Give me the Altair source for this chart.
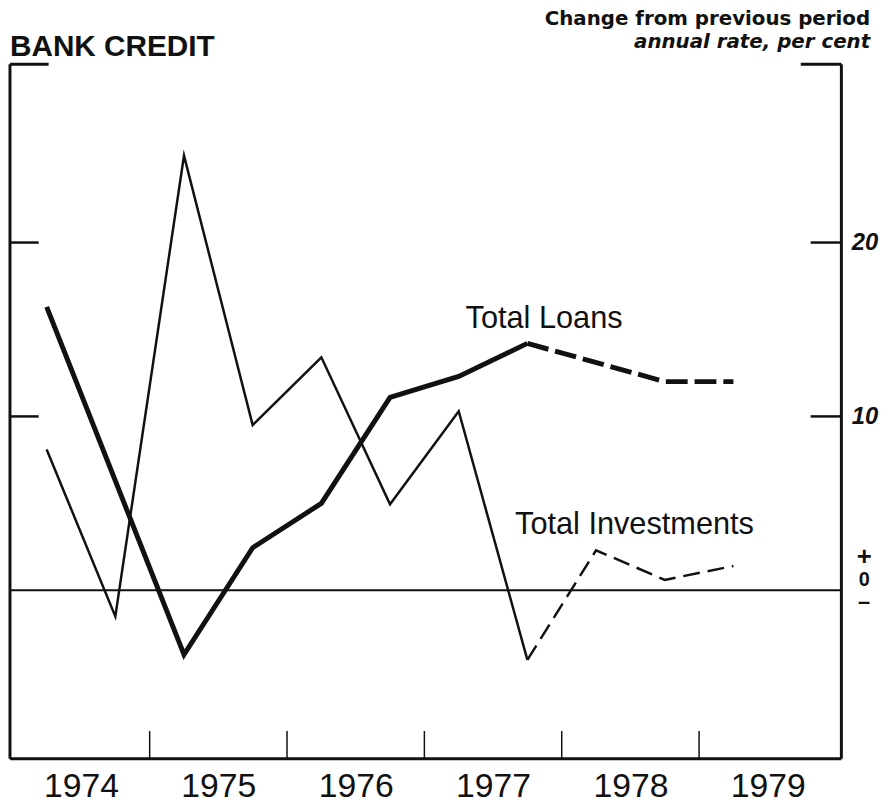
import altair as alt
import pandas as pd

# ---- data (half-year periods, % change at annual rate)
loans_x = [1974.25, 1975.25, 1975.75, 1976.25, 1976.75, 1977.25, 1977.75, 1978.75, 1979.25]
loans_y = [16.3, -3.7, 2.45, 5.0, 11.1, 12.3, 14.2, 12.0, 12.0]
invest_x = [1974.25, 1974.75, 1975.25, 1975.75, 1976.25, 1976.75, 1977.25, 1977.75, 1978.25, 1978.75, 1979.25]
invest_y = [8.1, -1.5, 25.0, 9.5, 13.4, 4.95, 10.3, -4.0, 2.3, 0.6, 1.4]
projection_start = 1977.75   # dashed part from here on

year_labels = [1974.5, 1975.5, 1976.5, 1977.5, 1978.5, 1979.5]
year_ticks = [1975, 1976, 1977, 1978, 1979]
y_ticks = [10, 20]

series_names = ["Total Loans", "Total Investments"]
series_label_x = [1977.30, 1977.66]
series_label_y = [15.1, 3.25]

title_text = "BANK CREDIT"
unit_lines = ["Change from previous period", "annual rate, per cent"]
zero_signs = ["+", "0", "–"]

# ---- scales / axes
W, H = 839, 701
INK = "#111111"
xscale = alt.Scale(domain=[1973.983, 1980.036], nice=False, zero=False)
yscale = alt.Scale(domain=[-9.69, 30.26], nice=False, zero=False)

xaxis = alt.Axis(values=year_labels, labelExpr="'' + floor(datum.value)", domain=False,
                 ticks=False, grid=False, labelFont="Liberation Sans", labelFontSize=34,
                 labelColor=INK, labelPadding=11, labelFlush=False, labelOverlap=False,
                 title=None)
yaxis = alt.Axis(orient="right", values=y_ticks, domain=False, ticks=False, grid=False,
                 labelFont="Liberation Sans", labelFontWeight="bold", labelFontStyle="italic",
                 labelFontSize=24, labelColor=INK, labelPadding=10, labelBaseline="middle",
                 title=None)

X = alt.X("x:Q", scale=xscale, axis=xaxis)
Y = alt.Y("y:Q", scale=yscale, axis=yaxis)


def frame(xs, ys):
    return pd.DataFrame({"x": xs, "y": ys})


loans = frame(loans_x, loans_y)
inv = frame(invest_x, invest_y)
loans_solid = loans[loans.x <= projection_start]
loans_dash = loans[loans.x >= projection_start]
inv_solid = inv[inv.x <= projection_start]
inv_dash = inv[inv.x >= projection_start]

inv_solid_layer = alt.Chart(inv_solid).mark_line(
    color=INK, strokeWidth=2.5, strokeJoin="miter", strokeMiterLimit=20
).encode(x=X, y=Y)

inv_dash_layer = alt.Chart(inv_dash).mark_line(
    color=INK, strokeWidth=2.5, strokeDash=[17, 8], strokeJoin="miter"
).encode(x=X, y=Y)

loans_solid_layer = alt.Chart(loans_solid).mark_line(
    color=INK, strokeWidth=5, strokeJoin="miter", strokeMiterLimit=20
).encode(x=X, y=Y)

loans_dash_layer = alt.Chart(loans_dash).mark_line(
    color=INK, strokeWidth=5, strokeDash=[22, 7], strokeJoin="miter"
).encode(x=X, y=Y)

zero_line = alt.Chart(pd.DataFrame({"y": [0]})).mark_rule(color=INK, strokeWidth=2).encode(y=Y)

# frame (left, bottom, right sides and the short top corner pieces)
fr = dict(color=INK, strokeWidth=3)
one = pd.DataFrame({"a": [0]})
left_side = alt.Chart(one).mark_rule(**fr).encode(x=alt.value(0), y=alt.value(0), y2=alt.value(H))
right_side = alt.Chart(one).mark_rule(**fr).encode(x=alt.value(W), y=alt.value(0), y2=alt.value(H))
bottom_side = alt.Chart(one).mark_rule(**fr).encode(y=alt.value(H), x=alt.value(0), x2=alt.value(W))
top_left = alt.Chart(one).mark_rule(**fr).encode(y=alt.value(0), x=alt.value(0), x2=alt.value(39))
top_right = alt.Chart(one).mark_rule(**fr).encode(y=alt.value(0), x=alt.value(798), x2=alt.value(W))

ytick_df = pd.DataFrame({"y": y_ticks})
left_ticks = alt.Chart(ytick_df).mark_rule(color=INK, strokeWidth=2.5).encode(
    y=Y, x=alt.value(0), x2=alt.value(29))
right_ticks = alt.Chart(ytick_df).mark_rule(color=INK, strokeWidth=2.5).encode(
    y=Y, x=alt.value(808), x2=alt.value(W))
bottom_ticks = alt.Chart(pd.DataFrame({"x": year_ticks})).mark_rule(color=INK, strokeWidth=1.5).encode(
    x=X, y=alt.value(H - 28), y2=alt.value(H))

# zero marker "+ 0 –" on the right
zero_offsets = [-34, -10, 12]
zero_sizes = [26, 20, 22]
zero_layers = [
    alt.Chart(pd.DataFrame({"t": [t], "y": [0]})).mark_text(
        font="Liberation Sans", fontWeight="bold", fontSize=s,
        color=INK, align="center", baseline="middle", dy=d
    ).encode(y=Y, x=alt.value(862), text="t:N")
    for t, d, s in zip(zero_signs, zero_offsets, zero_sizes)
]

labels_df = pd.DataFrame({"x": series_label_x, "y": series_label_y, "t": series_names})
series_labels = alt.Chart(labels_df).mark_text(
    font="Liberation Sans", fontSize=31, color=INK, align="left", baseline="alphabetic"
).encode(x=X, y=Y, text="t:N")

title_layer = alt.Chart(pd.DataFrame({"t": [title_text]})).mark_text(
    font="Liberation Sans", fontWeight="bold", fontSize=30, color=INK,
    align="left", baseline="alphabetic"
).encode(x=alt.value(0), y=alt.value(-8), text="t:N")

unit1 = alt.Chart(pd.DataFrame({"t": [unit_lines[0]]})).mark_text(
    font="DejaVu Sans", fontWeight="bold", fontSize=20, color=INK,
    align="right", baseline="alphabetic"
).encode(x=alt.value(868), y=alt.value(-39), text="t:N")
unit2 = alt.Chart(pd.DataFrame({"t": [unit_lines[1]]})).mark_text(
    font="DejaVu Sans", fontWeight="bold", fontStyle="italic", fontSize=20, color=INK,
    align="right", baseline="alphabetic"
).encode(x=alt.value(868), y=alt.value(-16), text="t:N")

chart = alt.layer(
    inv_solid_layer, inv_dash_layer, loans_solid_layer, loans_dash_layer, zero_line,
    left_side, right_side, bottom_side, top_left, top_right,
    left_ticks, right_ticks, bottom_ticks, *zero_layers, series_labels,
    title_layer, unit1, unit2,
).properties(
    width=W, height=H,
    padding={"left": 2, "top": 53, "right": 42, "bottom": 45},
    autosize=alt.AutoSizeParams(type="none"),
    background="white",
).configure_view(stroke=None)

chart.save("out.html", embed_options={"renderer": "svg", "actions": False})
